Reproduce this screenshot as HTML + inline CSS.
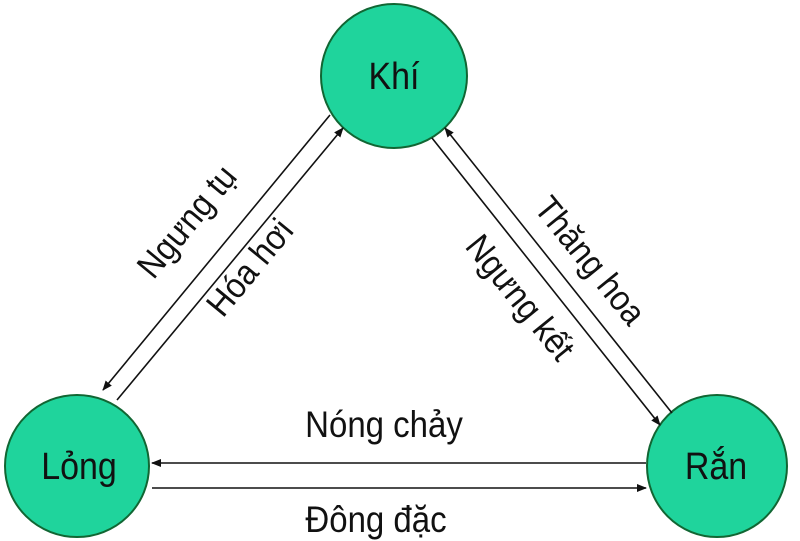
<!DOCTYPE html>
<html><head><meta charset="utf-8"><style>
html,body{margin:0;padding:0;background:#fff;width:800px;height:541px;overflow:hidden}
text{font-family:"Liberation Sans",sans-serif;fill:#111}
</style></head><body>
<svg width="800" height="541" viewBox="0 0 800 541" xmlns="http://www.w3.org/2000/svg">
<defs><marker id="a" markerWidth="10" markerHeight="10" refX="9" refY="5" orient="auto" markerUnits="userSpaceOnUse"><path d="M0,1 L10,5 L0,9 Z" fill="#111"/></marker></defs>
<ellipse cx="394" cy="76" rx="73" ry="72" fill="#1fd49c" stroke="#163" stroke-width="2"/>
<ellipse cx="77" cy="466" rx="72" ry="71" fill="#1fd49c" stroke="#163" stroke-width="2"/>
<ellipse cx="717" cy="466" rx="70" ry="71" fill="#1fd49c" stroke="#163" stroke-width="2"/>
<text font-size="34" text-anchor="middle" transform="translate(394,89) scale(1,1.12)">Khí</text>
<text font-size="34" text-anchor="middle" transform="translate(79,479) scale(1,1.12)">Lỏng</text>
<text font-size="34" text-anchor="middle" transform="translate(716,479) scale(1,1.12)">Rắn</text>
<g stroke="#111" stroke-width="1.6" fill="none">
<line x1="330" y1="115" x2="103" y2="390" marker-end="url(#a)"/>
<line x1="117" y1="400" x2="343" y2="128" marker-end="url(#a)"/>
<line x1="672" y1="413" x2="445" y2="128" marker-end="url(#a)"/>
<line x1="432" y1="138" x2="660" y2="425" marker-end="url(#a)"/>
<line x1="646" y1="463" x2="152" y2="463" marker-end="url(#a)"/>
<line x1="152" y1="488" x2="646" y2="488" marker-end="url(#a)"/>
</g>
<text font-size="33" text-anchor="middle" transform="translate(384,437) scale(1,1.12)">Nóng chảy</text>
<text font-size="33" text-anchor="middle" transform="translate(376,532) scale(1,1.12)">Đông đặc</text>
<text font-size="32" text-anchor="middle" transform="translate(196,229) rotate(-50.5) scale(1,1.1)">Ngưng tụ</text>
<text font-size="32" text-anchor="middle" transform="translate(259,275) rotate(-50.5) scale(1,1.1)">Hóa hơi</text>
<text font-size="32" text-anchor="middle" transform="translate(581,268) rotate(51) scale(1,1.1)">Thăng hoa</text>
<text font-size="32" text-anchor="middle" transform="translate(511,305) rotate(51) scale(1,1.1)">Ngưng kết</text>
</svg>
</body></html>
